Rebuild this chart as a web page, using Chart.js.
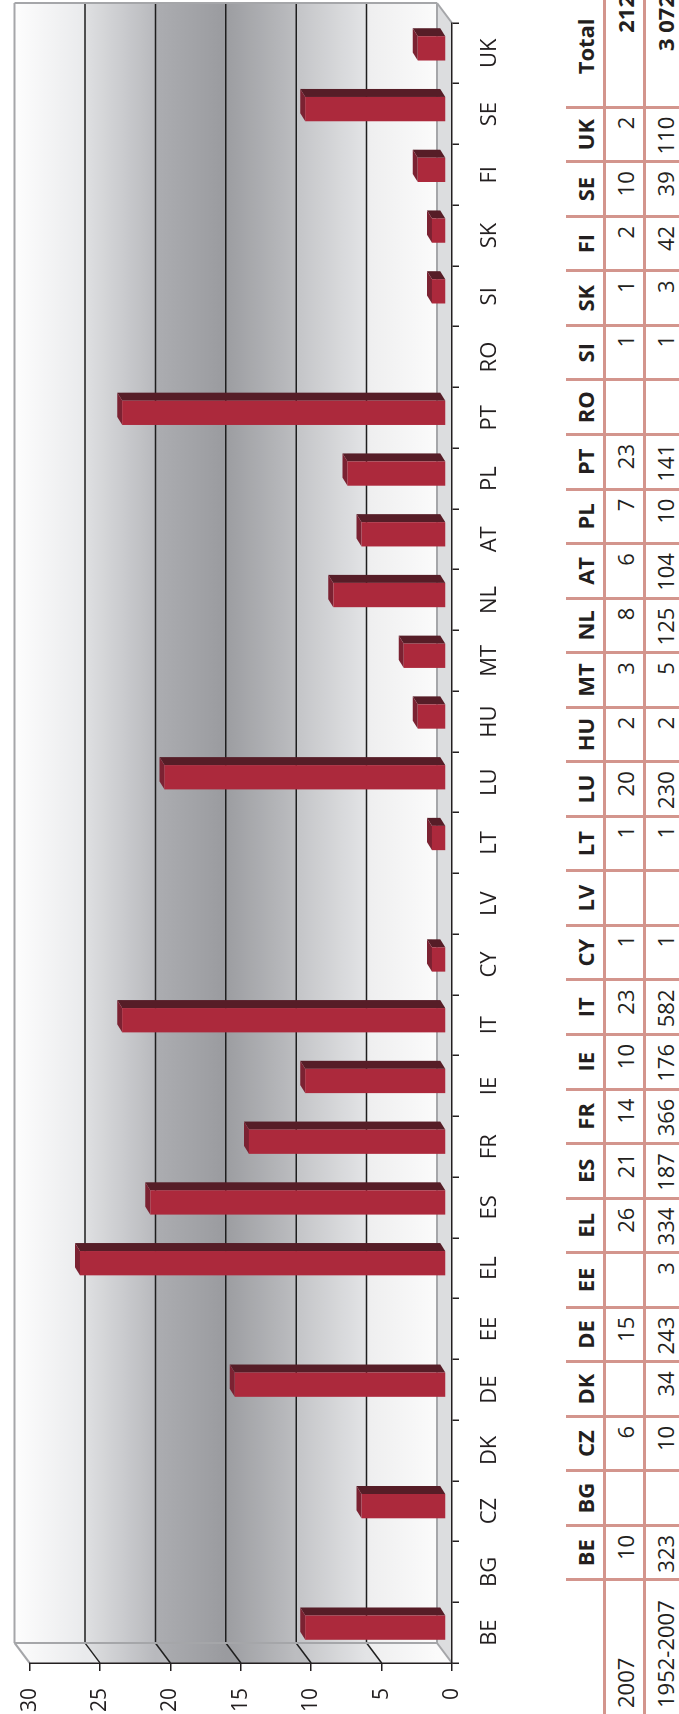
<!DOCTYPE html>
<html>
<head>
<meta charset="utf-8">
<script src="https://cdn.jsdelivr.net/npm/chart.js@4.4.1/dist/chart.umd.min.js"></script>
<style>
  html, body { margin: 0; padding: 0; background: #fff; }
  body { width: 679px; height: 1714px; overflow: hidden; position: relative; font-family: "Open Sans", sans-serif; color: #231f20; }
  /* everything is laid out landscape, then turned a quarter to the left */
  #land { position: absolute; left: 0; top: 0; width: 1714px; height: 679px; overflow: hidden;
          transform-origin: 0 0; transform: translateY(1714px) rotate(-90deg); }
  #chart { position: absolute; left: 0; top: 0; }
  #tbl { position: absolute; left: 0; top: 566px; border-collapse: collapse; table-layout: fixed; width: 1727px; }
  #tbl td { height: 37px; padding: 0; font-size: 22px; white-space: nowrap; vertical-align: middle; border: 0; }
  #tbl td.c { border-left: 3px solid #d3958d; text-align: right; padding-right: 8px; }
  #tbl tr.head td { font-weight: bold; text-align: center; padding-right: 0; border-bottom: 3px solid #d3958d; }
  #tbl tr.r1 td { border-bottom: 3px solid #d3958d; }
  #tbl td.lab { text-align: left; padding-left: 6px; }
  #tbl td.tot { font-weight: bold; }
</style>
</head>
<body>
<div id="land">
  <canvas id="chart" width="1714" height="560"></canvas>
  <table id="tbl"></table>
</div>
<script>
const countries = ['BE','BG','CZ','DK','DE','EE','EL','ES','FR','IE','IT','CY','LV','LT','LU','HU','MT','NL','AT','PL','PT','RO','SI','SK','FI','SE','UK'];
const cases2007 = [10,null,6,null,15,null,26,21,14,10,23,1,null,1,20,2,3,8,6,7,23,null,1,1,2,10,2];
const cases19522007 = [323,null,10,34,243,3,334,187,366,176,582,1,null,1,230,2,5,125,104,10,141,null,1,3,42,39,110];
const rowLabels = ['2007', '1952-2007'];
const totals = ['212', '3 072'];
const valueTicks = [0, 5, 10, 15, 20, 25, 30];

// 3d look
const DX = 20, DY = -15;   // back wall behind the front plane
const BX = 5, BY = -6;     // plane of the bar fronts
const SX = 8, SY = -5;     // depth of a bar
const bands = [            // wall shading, top band first
  ['#fdfdfd', '#e9eaec'],
  ['#dfe0e2', '#b8b9bd'],
  ['#acadb1', '#9a9b9f'],
  ['#9c9da1', '#bcbdc0'],
  ['#c3c4c7', '#e3e4e6'],
  ['#eeeeef', '#fbfbfb']
];

function poly(ctx, pts) {
  ctx.beginPath();
  ctx.moveTo(pts[0][0], pts[0][1]);
  for (let i = 1; i < pts.length; i++) ctx.lineTo(pts[i][0], pts[i][1]);
  ctx.closePath();
  ctx.fill();
}
function line(ctx, x0, y0, x1, y1) {
  ctx.beginPath(); ctx.moveTo(x0, y0); ctx.lineTo(x1, y1); ctx.stroke();
}

const walls = {
  id: 'walls',
  beforeDraw(chart) {
    const ctx = chart.ctx, a = chart.chartArea, y = chart.scales.y;
    const n = valueTicks.length;
    ctx.save();
    for (let i = 0; i < n - 1; i++) {
      const yf0 = y.getPixelForValue(valueTicks[n - 1 - i]);
      const yf1 = y.getPixelForValue(valueTicks[n - 2 - i]);
      const g = ctx.createLinearGradient(0, yf0 + DY, 0, yf1 + DY);
      g.addColorStop(0, bands[i][0]);
      g.addColorStop(1, bands[i][1]);
      ctx.fillStyle = g;
      ctx.fillRect(a.left + DX, yf0 + DY, a.right - a.left, yf1 - yf0 + 0.5);
      poly(ctx, [[a.left, yf0], [a.left + DX, yf0 + DY], [a.left + DX, yf1 + DY + 0.5], [a.left, yf1 + 0.5]]);
    }
    // floor
    const yb = a.bottom;
    ctx.fillStyle = '#dcdddf';
    poly(ctx, [[a.left, yb], [a.left + DX, yb + DY], [a.right + DX, yb + DY], [a.right, yb]]);

    // grid lines on back and side wall
    ctx.lineWidth = 1.5;
    ctx.strokeStyle = '#1e1e1e';
    valueTicks.forEach(v => {
      if (v === 0 || v === valueTicks[n - 1]) return;
      const yf = y.getPixelForValue(v);
      line(ctx, a.left + DX, yf + DY, a.right + DX, yf + DY);
      line(ctx, a.left, yf, a.left + DX, yf + DY);
    });
    // outline
    ctx.lineWidth = 2;
    ctx.strokeStyle = '#a5a6a9';
    const yt = y.getPixelForValue(valueTicks[n - 1]);
    line(ctx, a.left + DX, yt + DY, a.right + DX, yt + DY);
    line(ctx, a.right + DX, yt + DY, a.right + DX, yb + DY);
    line(ctx, a.left + DX, yt + DY, a.left + DX, yb + DY);
    line(ctx, a.left + DX, yb + DY, a.right + DX, yb + DY);
    line(ctx, a.left, yt, a.left + DX, yt + DY);
    line(ctx, a.left, yb, a.left + DX, yb + DY);
    line(ctx, a.right, yb, a.right + DX, yb + DY);
    ctx.restore();
  }
};

const bars3d = {
  id: 'bars3d',
  beforeDatasetDraw(chart, args) {
    const ctx = chart.ctx;
    const ds = chart.data.datasets[args.index];
    ctx.save();
    args.meta.data.forEach((bar, i) => {
      if (ds.data[i] == null) return;
      const p = bar.getProps(['x', 'y', 'base', 'width'], true);
      const l = p.x - p.width / 2 + BX, r = p.x + p.width / 2 + BX;
      const t = p.y + BY, b = p.base + BY;
      ctx.fillStyle = '#561d27';
      poly(ctx, [[r, t], [r + SX, t + SY], [r + SX, b + SY], [r, b]]);
      ctx.fillStyle = '#7b2232';
      poly(ctx, [[l, t], [l + SX, t + SY], [r + SX, t + SY], [r, t]]);
      ctx.fillStyle = ds.backgroundColor;
      ctx.fillRect(l, t, r - l, b - t);
    });
    ctx.restore();
    return false;
  }
};

var ctx = document.getElementById('chart').getContext('2d');
var myChart = new Chart(ctx, {
  type: 'bar',
  data: {
    labels: countries,
    datasets: [{
      label: '2007',
      data: cases2007,
      backgroundColor: '#ac293c',
      categoryPercentage: 1,
      barPercentage: 0.4
    }]
  },
  options: {
    responsive: false,
    animation: false,
    layout: { padding: { top: 24, right: 23, left: 0, bottom: 0 } },
    plugins: { legend: { display: false }, tooltip: { enabled: false } },
    scales: {
      x: {
        grid: { offset: true, drawOnChartArea: false, tickLength: 7, color: '#231f20', lineWidth: 1.5 },
        border: { color: '#231f20', width: 1.5 },
        ticks: { color: '#231f20', font: { family: 'Open Sans', size: 22 }, padding: 18, maxRotation: 0, autoSkip: false },
        afterFit: s => { s.height = 108; }
      },
      y: {
        min: 0, max: 30,
        afterBuildTicks: s => { s.ticks = valueTicks.map(v => ({ value: v })); },
        grid: { drawOnChartArea: false, tickLength: 8, color: '#231f20', lineWidth: 1.5 },
        border: { color: '#231f20', width: 1.5 },
        ticks: { color: '#231f20', font: { family: 'Open Sans', size: 21 }, padding: 17 },
        afterFit: s => { s.width = 51; }
      }
    }
  },
  plugins: [walls, bars3d]
});

// table under the chart
const tbl = document.getElementById('tbl');
let html = '<colgroup><col style="width:134px">';
countries.forEach(() => { html += '<col style="width:54.56px">'; });
html += '<col style="width:120px"></colgroup>';
html += '<tr class="head"><td></td>';
countries.forEach(c => { html += '<td class="c">' + c + '</td>'; });
html += '<td class="c">Total</td></tr>';
[cases2007, cases19522007].forEach((row, k) => {
  html += '<tr class="r' + (k + 1) + '"><td class="lab">' + rowLabels[k] + '</td>';
  row.forEach(v => { html += '<td class="c">' + (v == null ? '' : v) + '</td>'; });
  html += '<td class="c tot">' + totals[k] + '</td></tr>';
});
tbl.innerHTML = html;
</script>
</body>
</html>
